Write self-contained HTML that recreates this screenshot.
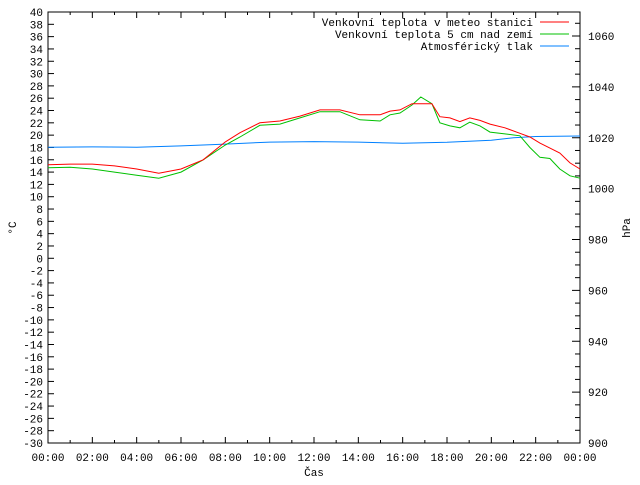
<!DOCTYPE html>
<html><head><meta charset="utf-8"><style>
html,body{margin:0;padding:0;background:#fff}
svg text{font-family:"Liberation Mono",monospace;font-size:11px;fill:#000}
</style></head><body>
<svg id="c" width="640" height="480" xmlns="http://www.w3.org/2000/svg">
<rect x="48" y="12" width="532" height="431" fill="none" stroke="#000"/>
<g id="ax"></g>
<g id="series"></g>
<g id="legend"></g>
<text x="16" y="228" transform="rotate(-90 16 228)" text-anchor="middle">°C</text>
<text x="630" y="228" transform="rotate(-90 630 228)" text-anchor="middle">hPa</text>
<text x="314" y="476" text-anchor="middle">Čas</text>
</svg>
<script>
const hours=[0,1,2,3,4,5,6,7,8,8.66,9.56,10.46,11.37,12.27,13.17,14.07,14.98,15.43,15.88,16.42,16.82,17.32,17.68,18.13,18.58,19.03,19.49,19.94,20.61,21.29,21.74,22.19,22.64,23.09,23.55,24];
const airTemp=[15.2,15.3,15.3,15.0,14.5,13.8,14.5,16.0,18.9,20.4,22.0,22.3,23.1,24.1,24.1,23.3,23.3,23.9,24.1,25.1,25.1,25.1,23.0,22.8,22.2,22.8,22.4,21.8,21.2,20.3,19.7,18.7,17.9,17.1,15.5,14.5];
const groundTemp=[14.7,14.8,14.5,14.0,13.5,13.0,14.0,16.0,18.4,19.7,21.6,21.8,22.8,23.8,23.8,22.5,22.3,23.3,23.6,24.9,26.2,25.1,22.0,21.5,21.2,22.1,21.5,20.5,20.2,19.9,18.0,16.4,16.2,14.5,13.4,13.0];
const pHours=[0,2,4,6,8,10,12,14,16,18,20,21,22,24];
const pressure=[1016.3,1016.4,1016.3,1016.8,1017.5,1018.3,1018.5,1018.3,1017.8,1018.2,1019.0,1020.0,1020.5,1020.7];
const yTicks=[-30,-28,-26,-24,-22,-20,-18,-16,-14,-12,-10,-8,-6,-4,-2,0,2,4,6,8,10,12,14,16,18,20,22,24,26,28,30,32,34,36,38,40];
const y2Ticks=[900,920,940,960,980,1000,1020,1040,1060];
const xLabels=["00:00","02:00","04:00","06:00","08:00","10:00","12:00","14:00","16:00","18:00","20:00","22:00","00:00"];
const legendNames=["Venkovní teplota v meteo stanici","Venkovní teplota 5 cm nad zemí","Atmosférický tlak"];
const NS="http://www.w3.org/2000/svg";
const X=h=>48+h*532/24;
const Y=t=>443-(t+30)*431/70;
const Y2=p=>443-(p-900)*407/160;
function mk(tag,attrs,parent,txt){const e=document.createElementNS(NS,tag);for(const k in attrs)e.setAttribute(k,attrs[k]);if(txt!==undefined)e.textContent=txt;parent.appendChild(e);return e;}
const ax=document.getElementById('ax');
yTicks.forEach(t=>{const y=Y(t);
 const l=mk('line',{x1:48,x2:54,y1:y,y2:y,stroke:'#000'},ax);
 
 
 const tx=mk('text',{x:43,y:y+4,'text-anchor':'end'},ax,String(t));
 
 });
for(let p=900;p<=1065;p+=5){const y=Y2(p);const big=p%20===0;
 const l=mk('line',{x1:580,x2:big?572:575,y1:y,y2:y,stroke:'#000'},ax);
 
 }
y2Ticks.forEach(p=>{const tx=mk('text',{x:588,y:Y2(p)+4},ax,String(p));
 
 });
for(let h=0;h<=24;h++){const x=X(h);const big=h%2===0;
 const a=mk('line',{x1:x,x2:x,y1:443,y2:big?437:440,stroke:'#000'},ax);
 
 
 const b=mk('line',{x1:x,x2:x,y1:12,y2:big?18:15,stroke:'#000'},ax);
 
 }
xLabels.forEach((s,i)=>{const tx=mk('text',{x:X(i*2),y:461,'text-anchor':'middle'},ax,s);
 
 });
const sg=document.getElementById('series');
function line(xs,ys,fx,fy,color,name){const pts=xs.map((h,i)=>X(h).toFixed(1)+','+fy(ys[i]).toFixed(1)).join(' ');
 const pl=mk('polyline',{points:pts,fill:'none',stroke:color,'stroke-width':1},sg);
 
 }
line(pHours,pressure,X,Y2,'#0080ff','pressure-line');
line(hours,groundTemp,X,Y,'#00c000','ground-temp-line');
line(hours,airTemp,X,Y,'#ff0000','air-temp-line');
const lg=document.getElementById('legend');const cols=['#ff0000','#00c000','#0080ff'];
legendNames.forEach((n,i)=>{const y=22+i*12;
 const t=mk('text',{x:533,y:y+4,'text-anchor':'end'},lg,n);
 
 
 const l=mk('line',{x1:540,x2:569,y1:y,y2:y,stroke:cols[i]},lg);
 
 });
</script>
</body></html>
